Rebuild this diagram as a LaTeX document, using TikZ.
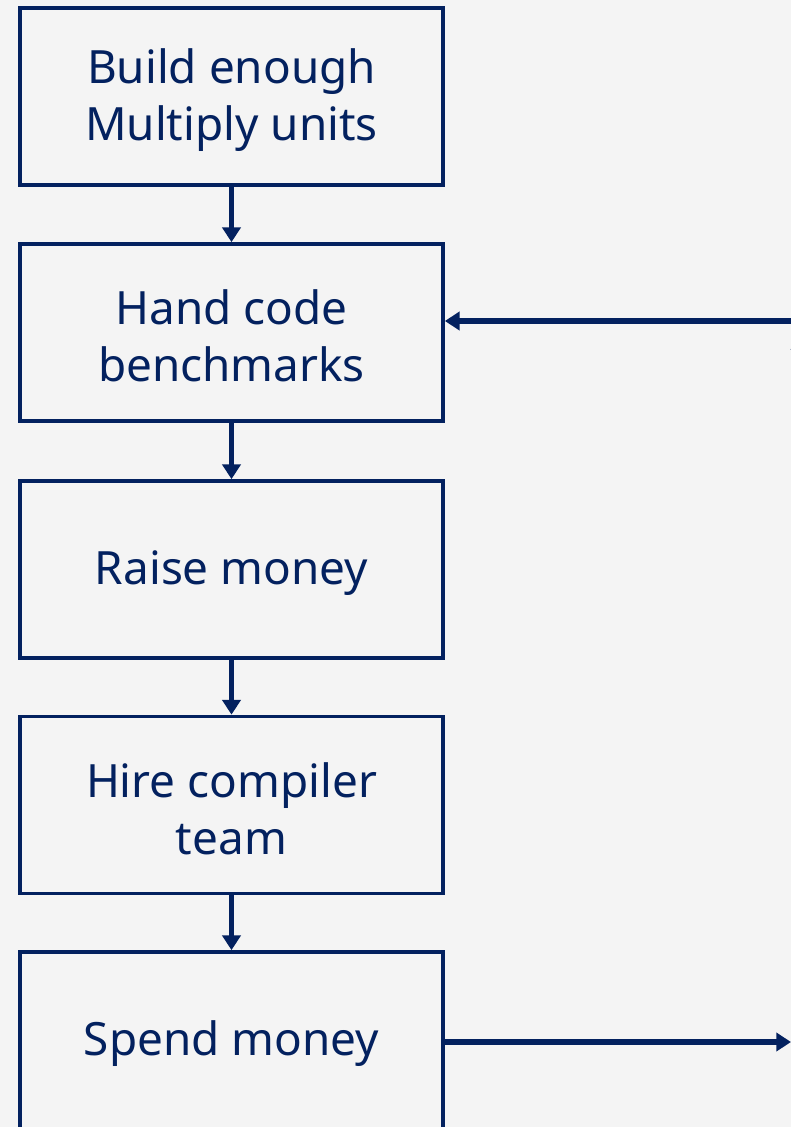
\documentclass[tikz,border=0pt]{standalone}
\usepackage{fontspec}
\setmainfont{Noto Sans}
\usetikzlibrary{arrows.meta}
\definecolor{navy}{HTML}{03215F}
\definecolor{bg}{HTML}{F4F4F4}
\begin{document}
\begin{tikzpicture}[x=0.75pt,y=-0.75pt,
  stepbox/.style={draw=navy,line width=2.8pt,fill=bg,minimum width=423*0.75pt,
    minimum height=177*0.75pt,inner sep=0pt,align=center,text=navy,
    font=\fontsize{34.4}{42.75}\selectfont},
  label/.style={text=navy,align=center,font=\fontsize{34.4}{42.75}\selectfont},
  flow/.style={draw=navy,line width=3.8pt,-{Triangle[length=11pt,width=13.5pt]}}]
\fill[bg] (0,0) rectangle (791,1127);
\useasboundingbox (0,0) rectangle (791,1127);
\clip (0,0) rectangle (791,1127);
\node[stepbox] (b1) at (231.5,96.5) {};
\node[stepbox] (b2) at (231.5,332.5) {};
\node[stepbox] (b3) at (231.5,569.5) {};
\node[stepbox] (b4) at (231.5,805) {};
\node[stepbox] (b5) at (231.5,1040.5) {};
\node[label] (t1) at ([yshift=-2.5pt]b1.center) {Build enough\\Multiply units};
\node[label] (t2) at ([yshift=-2.5pt]b2.center) {Hand code\\benchmarks};
\node[label] (t3) at ([yshift=-2.5pt]b3.center) {Raise money};
\node[label] (t4) at ([yshift=-2.5pt]b4.center) {Hire compiler\\team};
\node[label] (t5) at ([yshift=-2.5pt]b5.center) {Spend money};
\draw[flow] (b1) -- (b2);
\draw[flow] (b2) -- (b3);
\draw[flow] (b3) -- (b4);
\draw[flow] (b4) -- (b5);
\coordinate (fb) at (830,321);
\coordinate (out) at (791,1042);
\coordinate (up0) at (800,420);
\coordinate (up1) at (800,335);
\draw[flow] (fb) -- (b2.east |- fb);
\draw[flow] (b5.east |- out) -- (out);
\draw[flow] (up0) -- (up1);
\end{tikzpicture}
\end{document}
